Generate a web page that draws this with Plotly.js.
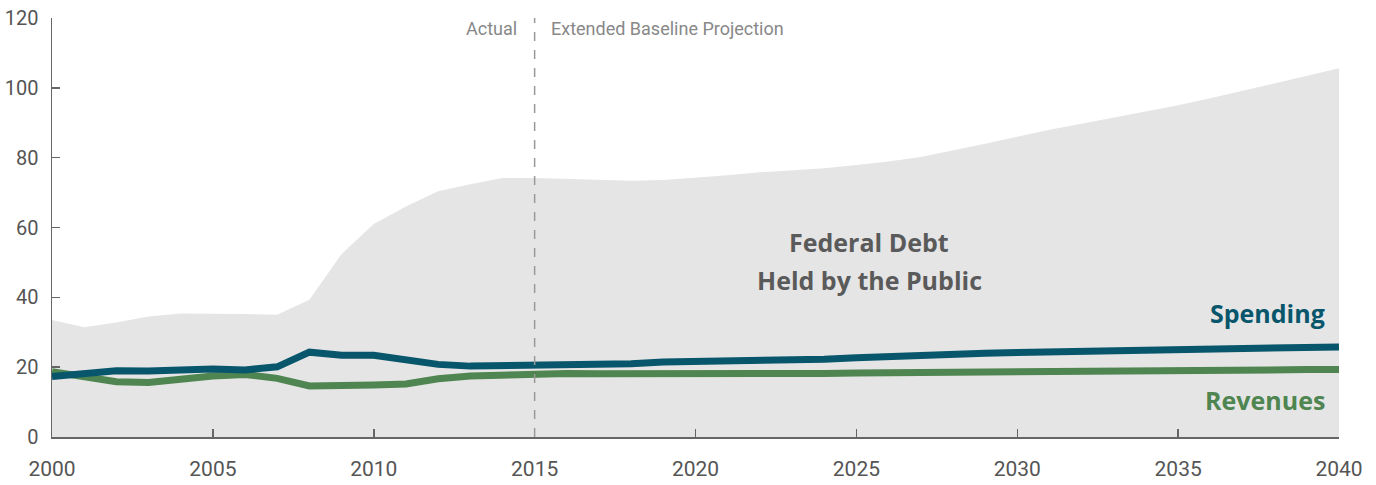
<!DOCTYPE html>
<html>
<head>
<meta charset="utf-8">
<script src="https://cdn.plot.ly/plotly-3.0.1.min.js"></script>
<style>
  html, body { margin: 0; padding: 0; background: #fff; }
  #chart { width: 1376px; height: 485px; }
</style>
</head>
<body>
<div id="chart"></div>
<script>
const years = [2000, 2001, 2002, 2003, 2004, 2005, 2006, 2007, 2008, 2009,
               2010, 2011, 2012, 2013, 2014, 2015, 2016, 2017, 2018, 2019,
               2020, 2021, 2022, 2023, 2024, 2025, 2026, 2027, 2028, 2029,
               2030, 2031, 2032, 2033, 2034, 2035, 2036, 2037, 2038, 2039, 2040];

const debt = [33.5, 31.4, 32.8, 34.5, 35.4, 35.4, 35.2, 35.0, 39.3, 52.4,
              61.0, 66.0, 70.4, 72.4, 74.2, 74.2, 74.0, 73.6, 73.4, 73.6,
              74.2, 75.0, 75.8, 76.4, 77.0, 77.9, 78.9, 80.2, 82.0, 84.0,
              86.0, 88.0, 89.7, 91.4, 93.1, 95.0, 97.0, 99.1, 101.2, 103.4, 105.6];

const spending = [17.3, 18.4, 19.0, 18.9, 19.2, 19.5, 19.2, 20.1, 24.3, 23.4,
                  23.4, 22.1, 20.8, 20.3, 20.4, 20.9, 20.7, 20.6, 21.0, 21.5,
                  21.6, 22.0, 22.0, 21.9, 22.3, 22.7, 23.1, 23.4, 23.7, 24.0,
                  24.2, 24.4, 24.6, 24.8, 25.0, 25.2, 25.4, 25.6, 25.7, 25.9, 25.8];

const revenues = [18.7, 17.0, 15.8, 15.6, 16.6, 17.5, 17.9, 16.8, 14.6, 14.6,
                  14.9, 15.2, 16.7, 17.5, 17.8, 18.4, 18.2, 18.1, 18.05, 18.05,
                  18.05, 18.05, 18.1, 18.1, 18.2, 18.3, 18.4, 18.5, 18.55, 18.6,
                  18.7, 18.75, 18.8, 18.85, 18.9, 19.0, 19.1, 19.15, 19.2, 19.3, 19.3];

const xTicks = [2000, 2005, 2010, 2015, 2020, 2025, 2030, 2035, 2040];
const yTicks = [0, 20, 40, 60, 80, 100, 120];
const splitYear = 2015;

const tickFont = 'Roboto, "Liberation Sans", sans-serif';
const boldFont = '"Open Sans", Lato, sans-serif';

const traces = [
  {
    x: years, y: debt, type: 'scatter', mode: 'lines',
    fill: 'tozeroy', fillcolor: '#e5e5e5',
    line: { width: 0, color: '#e5e5e5' }, hoverinfo: 'skip'
  },
  {
    x: years, y: revenues, type: 'scatter', mode: 'lines',
    line: { width: 7, color: '#4e8550' }
  },
  {
    x: years, y: spending, type: 'scatter', mode: 'lines',
    line: { width: 7, color: '#08566b' }
  }
];

const layout = {
  width: 1376, height: 485,
  margin: { l: 52, r: 37, t: 18, b: 48 },
  paper_bgcolor: '#ffffff', plot_bgcolor: '#ffffff',
  showlegend: false,
  xaxis: {
    range: [2000, 2040], tickvals: xTicks, ticktext: xTicks.map(String),
    showgrid: false, zeroline: false,
    showline: true, linecolor: '#666', linewidth: 1.5,
    ticks: 'inside', ticklen: 8, tickcolor: '#666', tickwidth: 1.5,
    tickfont: { family: tickFont, size: 21, color: '#555' },
    ticklabelstandoff: 12
  },
  yaxis: {
    range: [0, 120], tickvals: yTicks, ticktext: yTicks.map(String),
    showgrid: false, zeroline: false,
    showline: true, linecolor: '#666', linewidth: 1.5,
    ticks: 'inside', ticklen: 8, tickcolor: '#666', tickwidth: 1.5,
    tickfont: { family: tickFont, size: 20, color: '#555' },
    ticklabelstandoff: 8
  },
  shapes: [
    {
      type: 'line', xref: 'x', yref: 'paper',
      x0: splitYear, x1: splitYear, y0: 0, y1: 1,
      line: { color: '#999', width: 1.5, dash: 'dash' }
    }
  ],
  annotations: [
    { text: 'Actual', xref: 'x', yref: 'paper', x: splitYear, y: 0.975,
      xanchor: 'right', yanchor: 'middle', xshift: -16, showarrow: false,
      font: { family: tickFont, size: 18, color: '#888' } },
    { text: 'Extended Baseline Projection', xref: 'x', yref: 'paper', x: splitYear, y: 0.975,
      xanchor: 'left', yanchor: 'middle', xshift: 14, showarrow: false,
      font: { family: tickFont, size: 18, color: '#888' } },
    { text: 'Federal Debt', xref: 'x', yref: 'y', x: 2025.4, y: 55.8,
      xanchor: 'center', yanchor: 'middle', showarrow: false,
      font: { family: boldFont, size: 25, color: '#5a5a5a', weight: 700 } },
    { text: 'Held by the Public', xref: 'x', yref: 'y', x: 2025.4, y: 45.0,
      xanchor: 'center', yanchor: 'middle', showarrow: false,
      font: { family: boldFont, size: 25, color: '#5a5a5a', weight: 700 } },
    { text: 'Spending', xref: 'x', yref: 'y', x: 2040, y: 35.5,
      xanchor: 'right', yanchor: 'middle', xshift: -12, showarrow: false,
      font: { family: boldFont, size: 25, color: '#08566b', weight: 700 } },
    { text: 'Revenues', xref: 'x', yref: 'y', x: 2040, y: 10.5,
      xanchor: 'right', yanchor: 'middle', xshift: -12, showarrow: false,
      font: { family: boldFont, size: 25, color: '#4e8550', weight: 700 } }
  ]
};

Plotly.newPlot('chart', traces, layout, { displayModeBar: false, staticPlot: true });
</script>
</body>
</html>
